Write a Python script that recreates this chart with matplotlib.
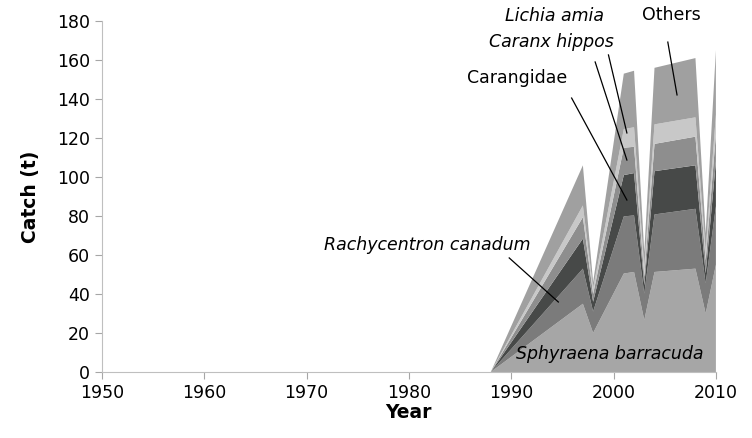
import matplotlib
matplotlib.use("Agg")
import matplotlib.pyplot as plt

years = [1988, 1997, 1998, 2001, 2002, 2003, 2004, 2008, 2009, 2010]
sphyraena = [0, 35, 20, 50.5, 51.3, 26.6, 51.3, 53, 30, 55]
rachycentron = [0, 18, 11, 29.3, 29, 13.6, 29.5, 30.7, 15.5, 30]
carangidae = [0, 15.4, 5, 21.2, 21.7, 4.3, 22.2, 22.3, 5.1, 23]
caranx = [0, 11, 4, 14, 13.5, 4.3, 14, 14.7, 6.7, 14]
lichia = [0, 6, 3, 9.6, 10, 5.1, 10, 9.9, 5.1, 10]
others = [0, 20.6, 3, 28.4, 29, 7.6, 29, 30.4, 8.6, 33]

series_names = ["Sphyraena barracuda", "Rachycentron canadum", "Carangidae",
                "Caranx hippos", "Lichia amia", "Others"]
colors = ["#a6a6a6", "#7b7b7b", "#474948", "#8e8e8e", "#c8c8c8", "#a0a0a0"]

x_ticks = [1950, 1960, 1970, 1980, 1990, 2000, 2010]
y_ticks = [0, 20, 40, 60, 80, 100, 120, 140, 160, 180]

fig = plt.figure(figsize=(7.52, 4.38), dpi=100)
ax = fig.add_axes([0.1356, 0.1507, 0.8164, 0.8013])

ax.stackplot(years, sphyraena, rachycentron, carangidae, caranx, lichia, others,
             colors=colors, linewidth=0)

ax.set_xlim(1950, 2010)
ax.set_ylim(0, 180)
ax.set_xticks(x_ticks)
ax.set_yticks(y_ticks)
ax.tick_params(labelsize=12.5, color="#a6a6a6", length=5, direction="out")
for s in ["top", "right"]:
    ax.spines[s].set_visible(False)
for s in ["left", "bottom"]:
    ax.spines[s].set_color("#bfbfbf")
ax.set_xlabel("Year", fontsize=13.5, fontweight="bold", labelpad=1)
ax.set_ylabel("Catch (t)", fontsize=13.5, fontweight="bold", labelpad=12)

txt_kw = dict(fontsize=12.5, ha="center", va="center", clip_on=False)
line_kw = dict(color="black", lw=0.9, clip_on=False)

# Others
ax.text(2005.6, 183, "Others", **txt_kw)
ax.plot([2005.3, 2006.2], [169.2, 142.1], **line_kw)
# Lichia amia
ax.text(1994.2, 182.6, "Lichia amia", style="italic", **txt_kw)
ax.plot([1999.5, 2001.3], [162.6, 122.6], **line_kw)
# Caranx hippos
ax.text(1993.9, 169.2, "Caranx hippos", style="italic", **txt_kw)
ax.plot([1998.2, 2001.3], [159, 108.7], **line_kw)
# Carangidae
ax.text(1990.6, 150.8, "Carangidae", **txt_kw)
ax.plot([1995.9, 2001.3], [140.5, 88.2], **line_kw)
# Rachycentron canadum
ax.text(1981.8, 65.1, "Rachycentron canadum", style="italic", **txt_kw)
ax.plot([1989.8, 1994.6], [58.5, 35.9], **line_kw)
# Sphyraena barracuda
ax.text(1999.6, 9.2, "Sphyraena barracuda", style="italic", **txt_kw)

fig.savefig("out.png", dpi=100)
